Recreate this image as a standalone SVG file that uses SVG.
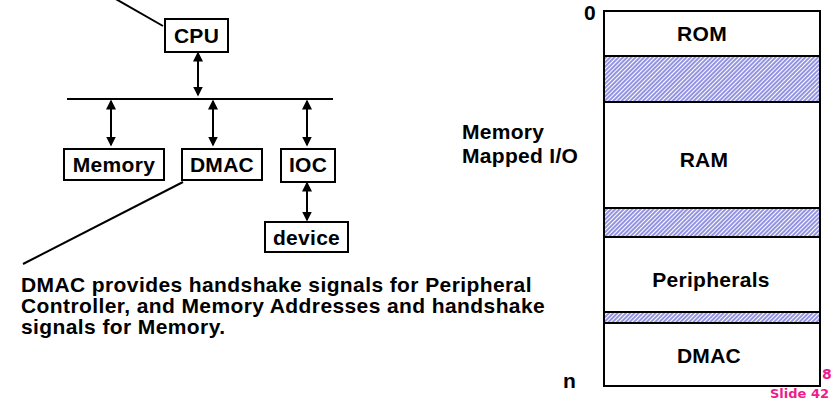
<svg xmlns="http://www.w3.org/2000/svg" width="833" height="403" viewBox="0 0 833 403">
<style>
  .box { fill: #fff; stroke: #000; stroke-width: 2; }
  .t { font-family: "Liberation Sans", Arial, sans-serif; font-weight: bold; font-size: 21px; letter-spacing: 0.3px; fill: #000; }
  .m { text-anchor: middle; }
  .ln { stroke: #000; stroke-width: 2; fill: none; }
  .arr { stroke: #000; stroke-width: 2; fill: none; marker-start: url(#ah); marker-end: url(#ah); }
  .hatch { fill: url(#hp); stroke: #000; stroke-width: 2; }
  .pink { font-family: "Comic Sans MS", "DejaVu Sans", sans-serif; font-weight: bold; font-size: 13px; fill: #ee1c8c; }
</style>
<defs>
  <marker id="ah" viewBox="0 0 10 10" refX="8.5" refY="5" markerWidth="10" markerHeight="11" markerUnits="userSpaceOnUse" orient="auto-start-reverse">
    <path d="M0,0 L10,5 L0,10 z" fill="#000"/>
  </marker>
  <pattern id="hp" patternUnits="userSpaceOnUse" width="3" height="3" patternTransform="rotate(45)">
    <rect width="3" height="3" fill="#fff"/>
    <line x1="1" y1="0" x2="1" y2="3" stroke="#3a3acc" stroke-width="1.1"/>
  </pattern>
</defs>

<g id="connectors">
  <line class="ln" x1="114" y1="-2" x2="163" y2="26"/>
  <line class="ln" x1="183" y1="182" x2="23" y2="264"/>
  <line class="ln" x1="67" y1="99" x2="333" y2="99"/>
  <line class="arr" x1="198" y1="53" x2="198" y2="95"/>
  <line class="arr" x1="111" y1="101" x2="111" y2="145"/>
  <line class="arr" x1="213" y1="101" x2="213" y2="145"/>
  <line class="arr" x1="307" y1="101" x2="307" y2="145"/>
  <line class="arr" x1="307" y1="183" x2="307" y2="220"/>
</g>

<g id="cpu">
  <rect class="box" x="165" y="19" width="63" height="33"/>
  <text class="t m" x="196.5" y="43">CPU</text>
</g>
<g id="memory">
  <rect class="box" x="64" y="149" width="100" height="31"/>
  <text class="t m" x="114" y="172">Memory</text>
</g>
<g id="dmac">
  <rect class="box" x="182" y="149" width="80" height="31"/>
  <text class="t m" x="222" y="172">DMAC</text>
</g>
<g id="ioc">
  <rect class="box" x="281" y="149" width="54" height="33"/>
  <text class="t m" x="308" y="172">IOC</text>
</g>
<g id="device">
  <rect class="box" x="265" y="222" width="83" height="30"/>
  <text class="t m" x="306.5" y="245">device</text>
</g>

<g id="note">
  <text class="t" x="21" y="292" style="letter-spacing:0.4px">DMAC provides handshake signals for Peripheral</text>
  <text class="t" x="21" y="313" style="letter-spacing:0.4px">Controller, and Memory Addresses and handshake</text>
  <text class="t" x="21" y="334" style="letter-spacing:0.4px">signals for Memory.</text>
</g>

<g id="mmio-label">
  <text class="t" x="462" y="139">Memory</text>
  <text class="t" x="462" y="163">Mapped I/O</text>
</g>

<g id="memory-map">
  <rect class="box" x="604" y="11" width="216" height="375"/>
  <rect class="hatch" x="604" y="56" width="216" height="46"/>
  <rect class="hatch" x="604" y="208" width="216" height="29"/>
  <rect class="hatch" x="604" y="312" width="216" height="11"/>
  <text class="t m" x="702" y="41">ROM</text>
  <text class="t m" x="704" y="167">RAM</text>
  <text class="t m" x="711" y="287">Peripherals</text>
  <text class="t m" x="709" y="363">DMAC</text>
  <text class="t" x="584" y="20">0</text>
  <text class="t" x="563" y="388">n</text>
</g>

<g id="footer">
  <text class="pink" x="822" y="379" style="font-size:14px">8</text>
  <text class="pink" x="770" y="398">Slide 42</text>
</g>
</svg>
